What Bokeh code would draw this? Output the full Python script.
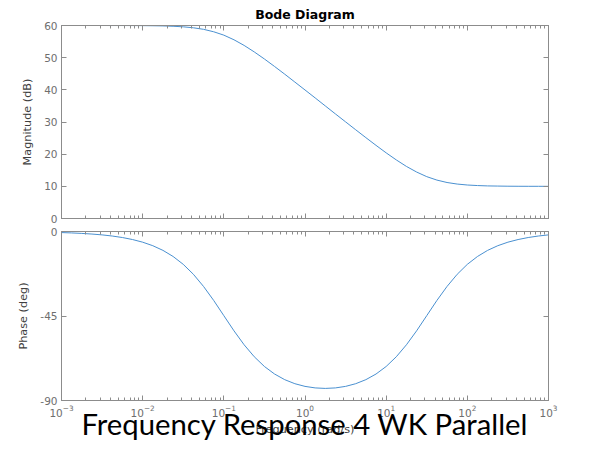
from bokeh.plotting import figure
from bokeh.layouts import column
from bokeh.models import LogAxis, LinearAxis, FixedTicker, Range1d
from bokeh.embed import file_html
from bokeh.resources import INLINE

# Frequency grid (rad/s), 8 points per decade, 1e-3 .. 1e3
freq = [0.001, 0.001334, 0.001778, 0.002371, 0.003162, 0.004217, 0.005623, 0.007499,
        0.01, 0.01334, 0.01778, 0.02371, 0.03162, 0.04217, 0.05623, 0.07499,
        0.1, 0.1334, 0.1778, 0.2371, 0.3162, 0.4217, 0.5623, 0.7499,
        1.0, 1.334, 1.778, 2.371, 3.162, 4.217, 5.623, 7.499,
        10.0, 13.34, 17.78, 23.71, 31.62, 42.17, 56.23, 74.99,
        100.0, 133.4, 177.8, 237.1, 316.2, 421.7, 562.3, 749.9, 1000.0]

mag_db = [60.0, 60.0, 60.0, 60.0, 60.0, 59.99, 59.99, 59.98,
          59.96, 59.92, 59.87, 59.76, 59.59, 59.29, 58.81, 58.05,
          57.0, 55.56, 53.81, 51.79, 49.59, 47.26, 44.87, 42.42,
          39.96, 37.49, 35.0, 32.51, 30.04, 27.58, 25.14, 22.74,
          20.41, 18.21, 16.19, 14.45, 13.01, 11.94, 11.19, 10.71,
          10.41, 10.24, 10.13, 10.08, 10.04, 10.02, 10.01, 10.01, 10.0]

phase_deg = [-0.57, -0.76, -1.02, -1.36, -1.80, -2.41, -3.21, -4.28,
             -5.69, -7.57, -10.05, -13.30, -17.49, -22.79, -29.26, -36.72,
             -44.82, -52.90, -60.32, -66.70, -71.88, -75.90, -78.90, -81.05,
             -82.48, -83.30, -83.56, -83.30, -82.48, -81.05, -78.90, -75.90,
             -71.88, -66.70, -60.32, -52.90, -44.82, -36.72, -29.26, -22.79,
             -17.49, -13.30, -10.05, -7.57, -5.69, -4.28, -3.21, -2.41, -1.80]

x_major = [0.001, 0.01, 0.1, 1.0, 10.0, 100.0, 1000.0]
x_minor = [m * d for d in [0.001, 0.01, 0.1, 1.0, 10.0, 100.0] for m in range(2, 10)]
mag_ticks = [0, 10, 20, 30, 40, 50, 60]
phase_ticks = [-90, -45, 0]
phase_tick_labels = {-90: "-90", -45: "-45", 0: "0"}

title_text = "Bode Diagram"
caption_text = "Frequency Response 4 WK Parallel"

LINE = "#4a90d0"
AXIS = "#8c8c8c"
TICKLAB = "#6e6e6e"
AXLAB = "#404040"
FONT = "DejaVu Sans"


def style_axis(ax, ticks, minor=None, labels=True, label_text=None, standoff=7):
    ax.ticker = FixedTicker(ticks=ticks, minor_ticks=minor or [])
    ax.axis_line_color = AXIS
    ax.major_tick_line_color = AXIS
    ax.minor_tick_line_color = AXIS if minor else None
    ax.major_tick_in = 5
    ax.major_tick_out = 0
    ax.minor_tick_in = 3
    ax.minor_tick_out = 0
    ax.major_label_text_font = FONT
    if labels:
        ax.major_label_standoff = 4
        ax.major_label_text_color = TICKLAB
        ax.major_label_text_font_size = "10.5px"
    else:
        ax.major_label_standoff = 0
        ax.major_label_text_color = None
        ax.major_label_text_font_size = "1px"
    if label_text:
        ax.axis_label = label_text
        ax.axis_label_text_font = FONT
        ax.axis_label_text_font_size = "11.25px"
        ax.axis_label_text_font_style = "normal"
        ax.axis_label_text_color = AXLAB
        ax.axis_label_standoff = standoff


# ---- Magnitude panel ----
p1 = figure(width=589, height=224, x_axis_type="log",
            x_range=Range1d(1e-3, 1e3), y_range=Range1d(0, 60),
            output_backend="svg", toolbar_location=None,
            min_border_left=61, min_border_right=41,
            min_border_top=24, min_border_bottom=6)
p1.line(freq, mag_db, line_color=LINE, line_width=1)
p1.grid.visible = False
p1.outline_line_color = AXIS
style_axis(p1.xaxis[0], x_major, x_minor, labels=False)
style_axis(p1.yaxis[0], mag_ticks, labels=True, label_text="Magnitude (dB)", standoff=7)
ax = LogAxis()
style_axis(ax, x_major, x_minor, labels=False)
p1.add_layout(ax, "above")
ay = LinearAxis()
style_axis(ay, mag_ticks, labels=False)
p1.add_layout(ay, "right")
p1.title.text = title_text
p1.title.align = "center"
p1.title.text_font = FONT
p1.title.text_font_style = "bold"
p1.title.text_font_size = "12.5px"
p1.title.text_color = "black"
p1.title.standoff = 8

# ---- Phase panel ----
p2 = figure(width=589, height=227, x_axis_type="log",
            x_range=p1.x_range, y_range=Range1d(-90, 0),
            output_backend="svg", toolbar_location=None,
            min_border_left=61, min_border_right=41,
            min_border_top=7, min_border_bottom=51)
p2.line(freq, phase_deg, line_color=LINE, line_width=1)
p2.grid.visible = False
p2.outline_line_color = AXIS
style_axis(p2.xaxis[0], x_major, x_minor, labels=True, label_text="Frequency (rad/s)", standoff=3)
style_axis(p2.yaxis[0], phase_ticks, labels=True, label_text="Phase (deg)", standoff=7)
p2.yaxis[0].major_label_overrides = phase_tick_labels
ax2 = LogAxis()
style_axis(ax2, x_major, x_minor, labels=False)
p2.add_layout(ax2, "above")
ay2 = LinearAxis()
style_axis(ay2, phase_ticks, labels=False)
p2.add_layout(ay2, "right")

# Caption overlapping the x-axis label, as in the reference
cap = LogAxis(ticker=FixedTicker(ticks=[]), axis_line_color=None,
              major_tick_line_color=None, minor_tick_line_color=None,
              major_label_text_font_size="1px", major_label_text_color=None,
              major_label_standoff=0,
              axis_label=caption_text, axis_label_text_font="Lato",
              axis_label_text_font_size="29.3px", axis_label_text_font_style="normal",
              axis_label_text_color="black", axis_label_standoff=-33)
p2.add_layout(cap, "below")

layout = column(p1, p2, spacing=0)
open("out.html", "w").write(file_html(layout, INLINE))
